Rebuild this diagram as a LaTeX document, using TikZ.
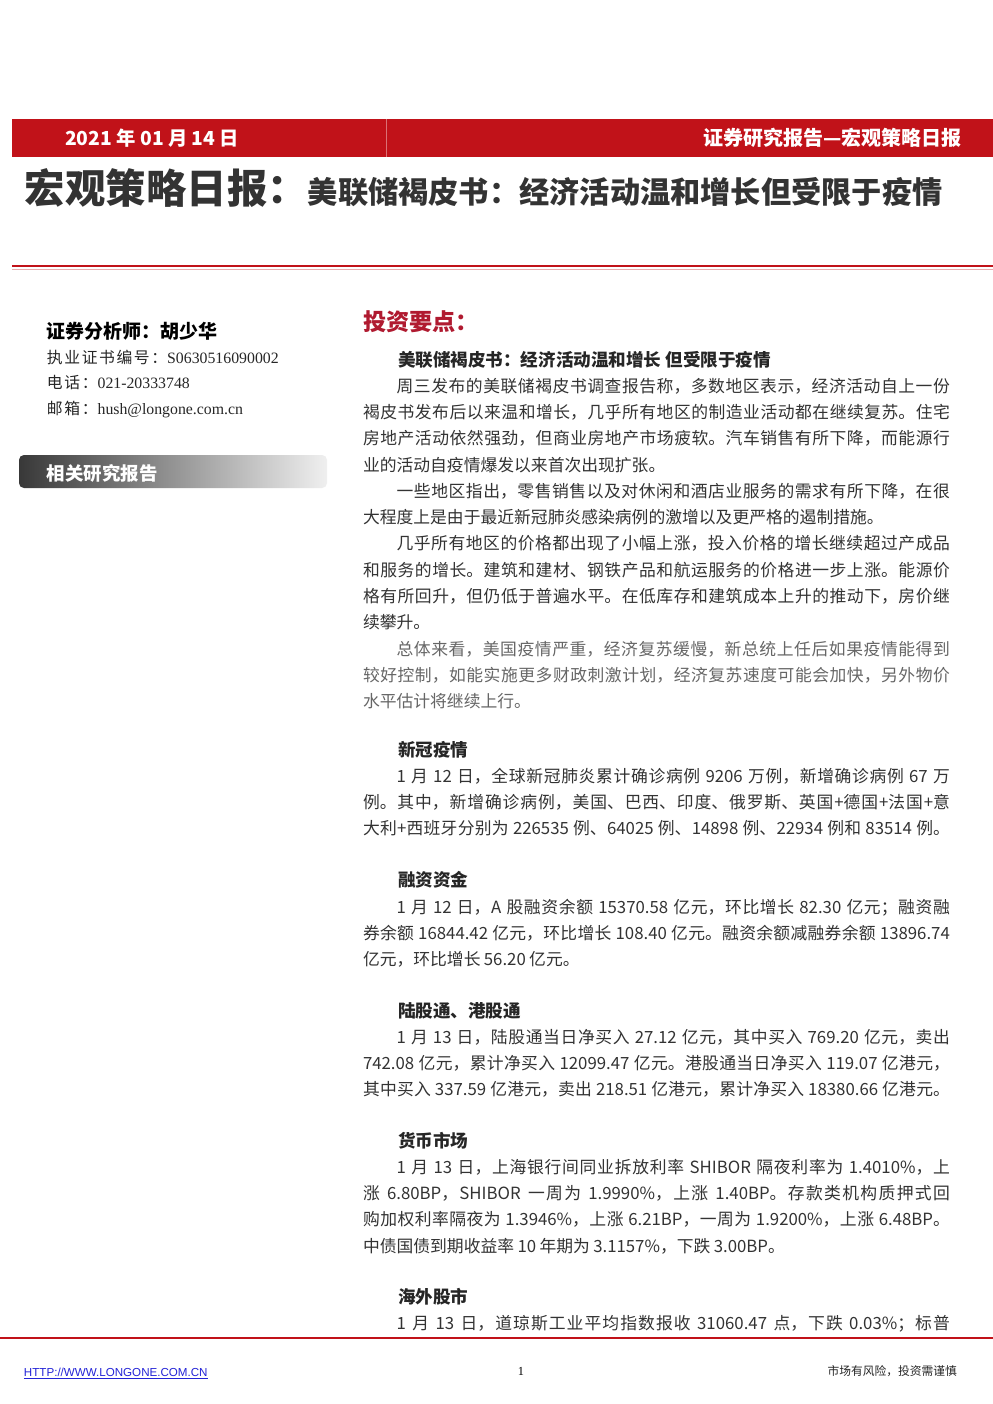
\documentclass[tikz,border=0pt]{standalone}
\usepackage{fontspec}
\setmainfont{Liberation Serif}
\newfontfamily\cjk{Noto Sans CJK SC}
\newfontfamily\cjkwide[LetterSpace=10]{Noto Sans CJK SC}
\newfontfamily\arialf{Liberation Sans}
\XeTeXlinebreaklocale "zh"
\XeTeXlinebreakskip=0pt plus 1pt
\definecolor{barred}{RGB}{193,18,25}
\definecolor{keyred}{RGB}{176,26,48}
\definecolor{linkblue}{RGB}{35,35,215}
\newcommand\bodyfont{\cjk\fontsize{9.56pt}{14.97pt}\selectfont\parindent=0pt\spaceskip=.2em plus .3em minus .05em\relax}
\newcommand\indentpar{\hspace*{2em}}
\newcommand\topstrut{\rule{0pt}{1.2em}}

\begin{document}
\begin{tikzpicture}[
        x=0.02cm, y=-0.02cm,
        every node/.style={inner sep=0pt, outer sep=0pt},
        bartext/.style={text=white, font=\cjk\bfseries\fontsize{10.5pt}{12pt}\selectfont},
        heading/.style={anchor=base west, text=black!85, font=\cjk\bfseries\fontsize{10pt}{12pt}\selectfont},
        body/.style={anchor=north west, text width=11.74cm, align=justify, text=black!80, font=\bodyfont},
        info/.style={anchor=base west, text=black!85, font=\fontsize{9pt}{10pt}\selectfont}
    ]
        \fill[white] (0,0) rectangle (993,1404);
        \useasboundingbox (0,0) rectangle (993,1404);

        % Header bar
        \fill[barred] (12,119) rectangle (993,157);
        \draw[barred!60!white, line width=0.35pt] (386,119) -- (386,157);
        \node[bartext, anchor=base west, font=\cjk\bfseries\fontsize{11pt}{12pt}\selectfont] (date) at (65,145) {2021 年 01 月 14 日};
        \node[bartext, anchor=base east, font=\cjk\bfseries\fontsize{11.4pt}{13pt}\selectfont] (series) at (962,145.5) {证券研究报告—宏观策略日报};

        % Title
        \node[anchor=base west, text=black!80, font=\cjk\bfseries\fontsize{23pt}{25pt}\selectfont] (title) at (25,203) {宏观策略日报：};
        \node[anchor=base west, text=black!80, font=\cjk\bfseries\fontsize{17.2pt}{19pt}\selectfont] (subtitle) at (title.base east) {美联储褐皮书：经济活动温和增长但受限于疫情};
        \draw[barred, line width=1.4pt] (12,266) -- (993,266);
        \draw[barred!35, line width=0.57pt] (12,269.5) -- (993,269.5);

        % Analyst column
        \node[anchor=base west, text=black, font=\cjk\bfseries\fontsize{10.8pt}{12pt}\selectfont] (analyst) at (47,338) {证券分析师：胡少华};
        \node[info] (licence) at (47,363) {{\cjkwide 执业证书编号：}S0630516090002};
        \node[info] (phone) at (47,388) {{\cjkwide 电话：}021-20333748};
        \node[info] (mail) at (47,414) {{\cjkwide 邮箱：}hush@longone.com.cn};
        \shade[left color=black!78, right color=black!6, rounded corners=2.8pt] (19,455) rectangle (327,488);
        \node[bartext, anchor=base west] (related) at (47,480) {相关研究报告};

        % Key points
        \node[anchor=base west, text=keyred, font=\cjk\bfseries\fontsize{13.2pt}{15pt}\selectfont] (keyhead) at (363,330) {投资要点：};
        \node[heading] (beige) at (398,366) {美联储褐皮书：经济活动温和增长 但受限于疫情};
        \node[body] (beigetext) at (363,372) {\topstrut\indentpar 周三发布的美联储褐皮书调查报告称，多数地区表示，经济活动自上一份\linebreak 褐皮书发布后以来温和增长，几乎所有地区的制造业活动都在继续复苏。住宅\linebreak 房地产活动依然强劲，但商业房地产市场疲软。汽车销售有所下降，而能源行\linebreak 业的活动自疫情爆发以来首次出现扩张。\par
            \indentpar 一些地区指出，零售销售以及对休闲和酒店业服务的需求有所下降，在很\linebreak 大程度上是由于最近新冠肺炎感染病例的激增以及更严格的遏制措施。\par
            \indentpar 几乎所有地区的价格都出现了小幅上涨，投入价格的增长继续超过产成品\linebreak 和服务的增长。建筑和建材、钢铁产品和航运服务的价格进一步上涨。能源价\linebreak 格有所回升，但仍低于普遍水平。在低库存和建筑成本上升的推动下，房价继\linebreak 续攀升。\par
            \color{black!60}\indentpar 总体来看，美国疫情严重，经济复苏缓慢，新总统上任后如果疫情能得到\linebreak 较好控制，如能实施更多财政刺激计划，经济复苏速度可能会加快，另外物价\linebreak 水平估计将继续上行。};

        \node[heading] (covid) at (398,756) {新冠疫情};
        \node[body] (covidtext) at (363,762) {\topstrut\indentpar 1 月 12 日，全球新冠肺炎累计确诊病例 9206 万例，新增确诊病例 67 万\linebreak 例。其中，新增确诊病例，美国、巴西、印度、俄罗斯、英国+德国+法国+意\linebreak 大利+西班牙分别为 226535 例、64025 例、14898 例、22934 例和 83514 例。\linebreak};

        \node[heading] (margin) at (398,886) {融资资金};
        \node[body] (margintext) at (363,893) {\topstrut\indentpar 1 月 12 日，A 股融资余额 15370.58 亿元，环比增长 82.30 亿元；融资融\linebreak 券余额 16844.42 亿元，环比增长 108.40 亿元。融资余额减融券余额 13896.74\linebreak 亿元，环比增长 56.20 亿元。};

        \node[heading] (connect) at (398,1017) {陆股通、港股通};
        \node[body] (connecttext) at (363,1023) {\topstrut\indentpar 1 月 13 日，陆股通当日净买入 27.12 亿元，其中买入 769.20 亿元，卖出\linebreak 742.08 亿元，累计净买入 12099.47 亿元。港股通当日净买入 119.07 亿港元，\linebreak 其中买入 337.59 亿港元，卖出 218.51 亿港元，累计净买入 18380.66 亿港元。\linebreak};

        \node[heading] (money) at (398,1147) {货币市场};
        \node[body] (moneytext) at (363,1153) {\topstrut\indentpar 1 月 13 日，上海银行间同业拆放利率 SHIBOR 隔夜利率为 1.4010\%，上\linebreak 涨 6.80BP，SHIBOR 一周为 1.9990\%，上涨 1.40BP。存款类机构质押式回\linebreak 购加权利率隔夜为 1.3946\%，上涨 6.21BP，一周为 1.9200\%，上涨 6.48BP。\linebreak 中债国债到期收益率 10 年期为 3.1157\%，下跌 3.00BP。};

        \node[heading] (overseas) at (398,1303) {海外股市};
        \node[body] (overseastext) at (363,1309) {\topstrut\indentpar 1 月 13 日，道琼斯工业平均指数报收 31060.47 点，下跌 0.03\%；标普\linebreak};

        % Footer
        \draw[barred, line width=1.1pt] (0,1338) -- (993,1338);
        \node[anchor=base west, text=linkblue, font=\arialf\fontsize{6.6pt}{7pt}\selectfont] (url) at (24,1376) {\underline{HTTP://WWW.LONGONE.COM.CN}};
        \node[anchor=base, text=black, font=\fontsize{7pt}{8pt}\selectfont] (page) at (521,1375) {1};
        \node[anchor=base east, text=black!85, font=\cjk\fontsize{6.7pt}{8pt}\selectfont] (risk) at (957,1375.5) {市场有风险，投资需谨慎};
    \end{tikzpicture}
\end{document}
